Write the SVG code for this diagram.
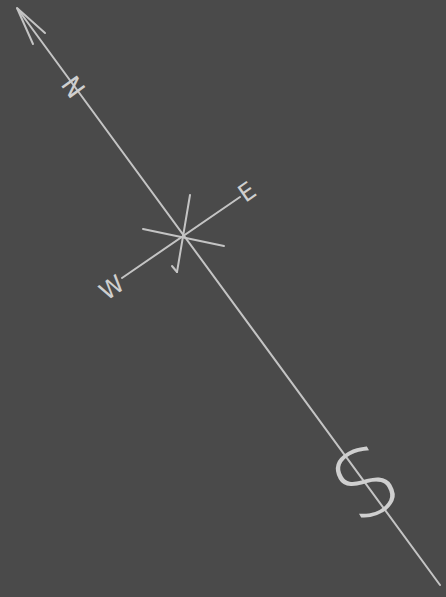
<svg xmlns="http://www.w3.org/2000/svg" width="446" height="597" viewBox="0 0 446 597">
<style>
.ln{stroke:#c4c4c4;stroke-width:2;stroke-linecap:round;fill:none}
.lb{fill:#cfcfcf;font-family:"DejaVu Sans","Liberation Sans",sans-serif;text-anchor:middle;dominant-baseline:central}
</style>
<rect width="446" height="597" fill="#4a4a4a"/>
<g id="connectors">
<line class="ln" x1="17" y1="8" x2="440" y2="585"/>
<polyline class="ln" points="45,33 17,8 33,44"/>
<line class="ln" x1="122" y1="278" x2="240" y2="197"/>
<line class="ln" x1="143" y1="229" x2="224" y2="246"/>
<line class="ln" x1="190" y1="195" x2="177" y2="272"/>
<polyline class="ln" points="172,266 177,272"/>
</g>
<g id="north"><text class="lb" font-size="26" font-weight="normal" transform="translate(73,87) rotate(54)">N</text></g>
<g id="east"><text class="lb" font-size="24" font-weight="normal" transform="translate(247,192) rotate(-35)">E</text></g>
<g id="west"><text class="lb" font-size="24" font-weight="normal" transform="translate(112,288) rotate(-35)">W</text></g>
<g id="south"><text class="lb" font-size="92" font-weight="200" transform="translate(366,484) rotate(-30)">S</text></g>
</svg>
